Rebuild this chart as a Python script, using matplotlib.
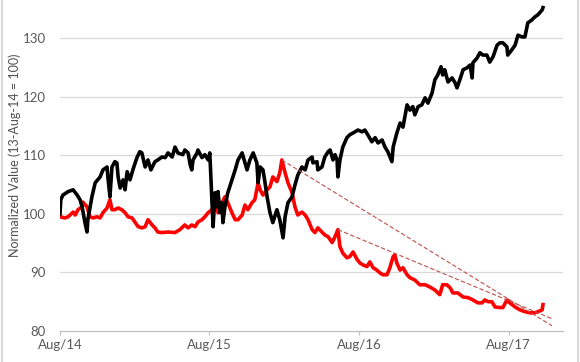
import numpy as np
import pandas as pd
import matplotlib
matplotlib.use("Agg")
import matplotlib.pyplot as plt
from matplotlib.lines import Line2D

base_date = "2014-08-13"

black_days = [0, 2, 7, 20, 32, 42, 49, 54, 61, 66, 68, 78, 86, 98, 105, 115, 117, 122, 127, 134,
              139, 142, 147, 154, 159, 164, 171, 178, 188, 195, 200, 208, 215, 222, 232, 239, 249,
              257, 264, 274, 281, 288, 300, 305, 313, 318, 322, 325, 335, 337, 347, 354, 362, 366,
              371, 374, 379, 384, 386, 391, 396, 398, 403, 410, 420, 428, 435, 445, 452, 457, 464,
              472, 481, 484, 489, 496, 501, 506, 513, 520, 530, 537, 545, 550, 557, 567, 574, 581,
              591, 599, 606, 616, 618, 628, 630, 640, 647, 655, 660, 667, 672, 677, 679, 684, 691,
              701, 708, 716, 728, 738, 745, 752, 762, 770, 777, 787, 794, 801, 811, 814, 823, 831,
              838, 848, 855, 862, 867, 875, 884, 892, 899, 909, 916, 923, 931, 935, 940, 948, 958,
              965, 970, 977, 985, 994, 1002, 1007, 1009, 1019, 1026, 1033, 1043, 1050, 1058, 1068,
              1075, 1082, 1092, 1094, 1104, 1112, 1119, 1129, 1136, 1143, 1153, 1160, 1168, 1178, 1180]
black_vals = [100.0, 102.4, 103.2, 103.8, 104.1, 103.2, 102.4, 101.2, 98.5, 96.9, 99.0, 102.9, 105.3,
              106.3, 107.5, 108.0, 106.3, 102.9, 108.0, 108.9, 108.7, 106.3, 104.4, 105.8, 104.1,
              107.2, 105.8, 107.5, 109.6, 110.6, 110.4, 108.0, 109.2, 107.5, 108.9, 109.2, 109.7,
              109.6, 110.4, 109.7, 111.4, 110.4, 110.1, 110.9, 110.4, 108.4, 107.5, 109.2, 110.4,
              110.9, 109.6, 110.1, 109.2, 110.4, 102.4, 97.8, 103.6, 101.2, 103.8, 100.2, 101.9,
              98.5, 101.2, 103.6, 105.8, 107.5, 109.2, 110.4, 108.7, 107.5, 109.2, 110.4, 108.7,
              105.3, 108.0, 107.5, 105.3, 102.9, 100.2, 98.5, 100.7, 99.0, 95.9, 99.5, 101.9, 102.9,
              104.9, 106.6, 108.0, 107.5, 109.2, 109.7, 108.7, 108.9, 107.5, 108.0, 109.7, 110.6,
              110.9, 109.2, 110.1, 109.2, 106.3, 109.2, 111.4, 113.0, 113.5, 113.8, 114.3, 114.0,
              114.3, 113.5, 112.3, 113.0, 112.1, 112.6, 111.4, 110.6, 108.9, 111.4, 113.8, 115.5,
              114.8, 118.6, 117.7, 118.3, 116.9, 118.3, 118.6, 119.8, 118.9, 120.6, 122.9, 123.7,
              125.1, 123.7, 124.6, 122.5, 123.2, 122.4, 121.5, 122.9, 124.6, 124.9, 125.4, 123.2,
              125.8, 126.6, 127.5, 127.1, 127.1, 125.9, 126.8, 128.8, 129.2, 129.2, 128.5, 127.1,
              128.0, 128.8, 130.5, 130.2, 130.2, 132.6, 133.1, 133.6, 134.0, 134.8, 135.2]

red_days = [0, 12, 20, 32, 37, 44, 54, 56, 66, 73, 81, 90, 98, 105, 115, 122, 127, 134, 142, 151,
            159, 166, 176, 183, 191, 200, 208, 215, 225, 232, 239, 249, 264, 281, 293, 305, 313,
            322, 330, 337, 347, 354, 362, 371, 379, 386, 396, 403, 410, 420, 428, 435, 445, 452,
            459, 469, 476, 484, 489, 496, 506, 513, 520, 530, 537, 542, 550, 557, 567, 574, 581,
            591, 599, 606, 616, 623, 630, 640, 647, 655, 665, 672, 679, 684, 691, 701, 708, 716,
            726, 733, 740, 750, 757, 765, 774, 782, 789, 799, 806, 814, 818, 823, 831, 838, 848,
            855, 867, 879, 892, 904, 916, 928, 935, 945, 953, 960, 972, 985, 997, 1009, 1021, 1031,
            1038, 1046, 1055, 1063, 1075, 1082, 1092, 1099, 1112, 1124, 1136, 1148, 1160, 1168,
            1178, 1180]
red_vals = [99.5, 99.3, 99.5, 100.3, 99.8, 100.7, 101.2, 102.0, 101.2, 99.5, 99.3, 99.5, 99.3, 100.2,
            101.0, 102.4, 100.7, 100.7, 101.0, 100.7, 100.2, 99.5, 99.3, 98.6, 97.8, 97.6, 97.8,
            99.0, 98.1, 97.6, 96.9, 96.8, 96.9, 96.8, 97.3, 98.1, 97.6, 98.1, 97.8, 98.6, 99.0, 99.5,
            100.2, 100.7, 101.5, 100.2, 101.9, 102.9, 101.9, 100.2, 99.0, 99.0, 99.8, 101.5, 100.7,
            101.9, 102.4, 105.3, 104.1, 103.2, 104.1, 104.6, 106.3, 105.5, 107.0, 109.2, 107.0,
            105.3, 103.6, 101.2, 99.8, 100.3, 99.8, 99.0, 97.3, 96.8, 97.6, 96.9, 96.4, 96.1, 95.1,
            96.1, 97.3, 94.4, 93.3, 92.5, 92.7, 93.5, 92.2, 91.6, 91.3, 91.0, 91.8, 90.8, 90.4, 89.9,
            89.6, 89.6, 90.8, 92.7, 93.0, 91.6, 90.4, 90.8, 89.6, 89.1, 88.7, 87.9, 87.9, 87.5, 87.0,
            86.2, 87.9, 87.9, 87.4, 86.5, 86.5, 85.8, 85.7, 85.3, 84.8, 84.8, 85.3, 85.0, 85.0, 84.1,
            84.0, 84.0, 85.3, 84.8, 84.1, 83.6, 83.3, 83.1, 83.1, 83.3, 83.6, 84.5]

trend1_days = [542, 1202]
trend1_vals = [109.2, 80.9]
trend2_days = [679, 1202]
trend2_vals = [97.3, 82.1]

tick_days = [0, 365, 731, 1096]
tick_labels = ["Aug/14", "Aug/15", "Aug/16", "Aug/17"]
y_ticks = [80, 90, 100, 110, 120, 130]

t0 = pd.Timestamp(base_date)
def to_dates(days):
    return t0 + pd.to_timedelta(np.asarray(days), unit="D")

plt.rcParams['font.family'] = ['Lato', 'DejaVu Sans']

fig = plt.figure(figsize=(5.8, 3.62), dpi=100)
ax = fig.add_axes([60/580, 31/362, 503/580, 331/362])

grid_c = "#d9d9d9"
for v in y_ticks[1:]:
    ax.axhline(v, color=grid_c, lw=0.9, zorder=0)

ax.plot(to_dates(trend1_days), trend1_vals, color="#c0504d", lw=0.8, ls=(0, (4, 2)), zorder=4)
ax.plot(to_dates(trend2_days), trend2_vals, color="#c0504d", lw=0.8, ls=(0, (4, 2)), zorder=4)
ax.plot(to_dates(red_days), red_vals, color="#ff0000", lw=2.6, zorder=2, solid_joinstyle="round")
ax.plot(to_dates(black_days), black_vals, color="#000000", lw=2.6, zorder=3, solid_joinstyle="round")

ax.set_xlim(t0, t0 + pd.Timedelta(days=1229))
ax.set_ylim(80, 136.5)
ax.set_yticks(y_ticks)
ax.set_xticks(to_dates(tick_days))
ax.set_xticklabels(tick_labels)

for s in ["top", "right", "left"]:
    ax.spines[s].set_visible(False)
ax.spines["bottom"].set_color("#bfbfbf")
ax.spines["bottom"].set_linewidth(0.9)

ax.tick_params(axis="y", length=0, pad=10, labelsize=9.5, labelcolor="#595959")
ax.tick_params(axis="x", length=3, color="#bfbfbf", pad=3, labelsize=9.5, labelcolor="#595959")

fig.text(15/580, 1 - 155/362, "Normalized Value (13-Aug-14 = 100)", rotation=90,
         ha="center", va="center", fontsize=9, color="#505050")

fig.add_artist(Line2D([1.5/580, 1.5/580], [0, 1], color="#cfcfcf", lw=1.2, transform=fig.transFigure))
fig.add_artist(Line2D([577.5/580, 577.5/580], [0, 1], color="#cfcfcf", lw=1.2, transform=fig.transFigure))

fig.savefig("out.png", dpi=100)
